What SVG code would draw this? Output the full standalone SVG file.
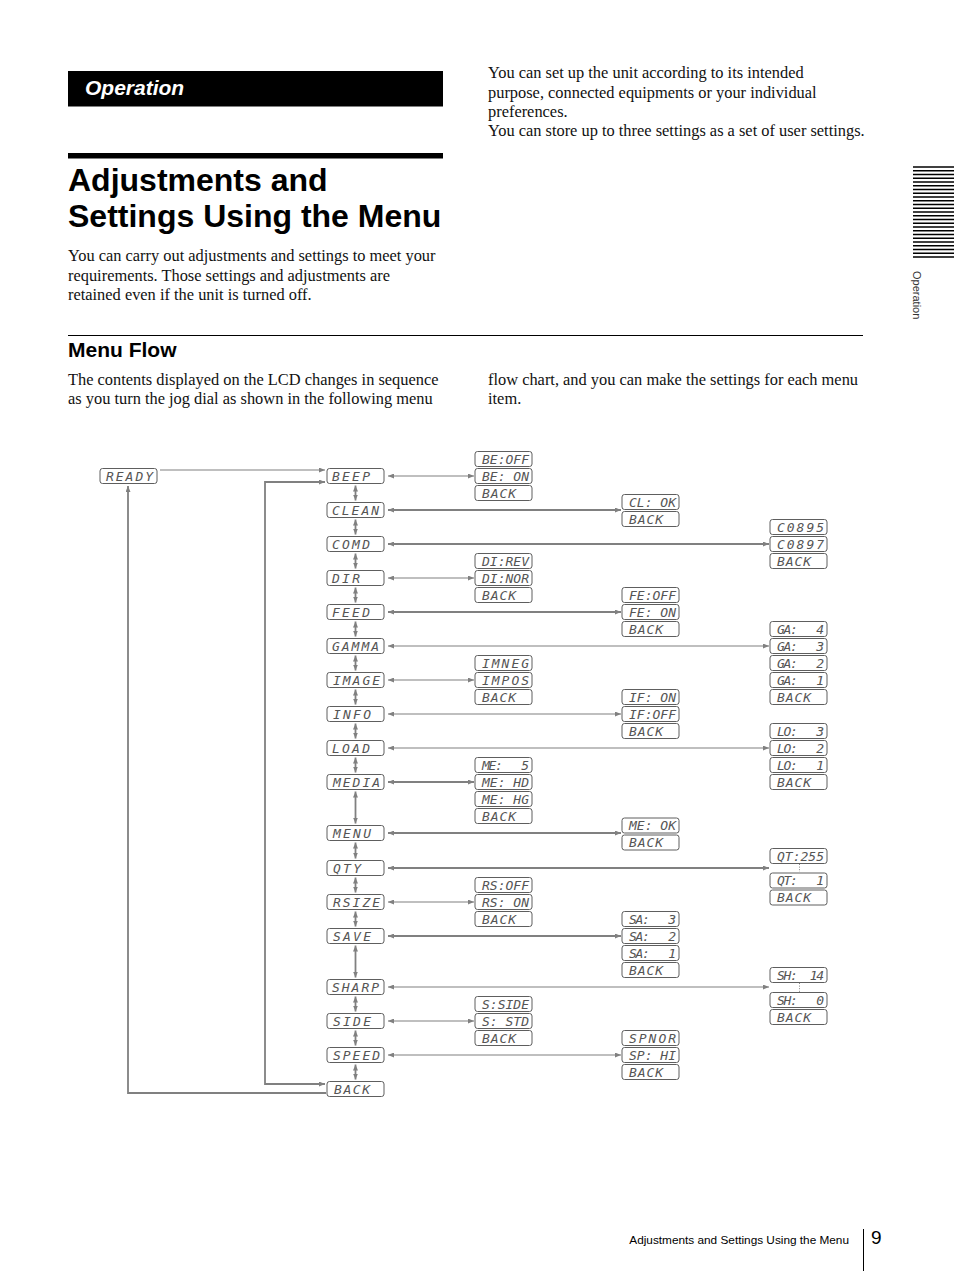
<svg xmlns="http://www.w3.org/2000/svg" width="954" height="1272" viewBox="0 0 954 1272">
<style>
.body{font-family:"Liberation Serif",serif;font-size:16.4px;fill:#111}
.lcd{fill:#fff;stroke:#5e5e5e;stroke-width:1}
.lt{font-family:"DejaVu Sans Mono","Liberation Mono",monospace;font-style:italic;font-size:13px;fill:#555;white-space:pre}
.c{fill:none;stroke:#808080;stroke-width:1.2}
.ck{fill:none;stroke:#808080;stroke-width:1.8}
.dot{fill:none;stroke:#888;stroke-width:1;stroke-dasharray:1 1.6}
</style>
<defs>
<marker id="ah" viewBox="0 0 6 5" refX="6" refY="2.5" markerWidth="6" markerHeight="5" markerUnits="userSpaceOnUse" orient="auto-start-reverse"><path d="M0,0 L6,2.5 L0,5 z" fill="#808080"/></marker>
</defs>
<rect width="954" height="1272" fill="#fff"/>

<!-- page header -->
<rect x="68" y="71" width="375" height="35.5" fill="#000"/>
<text x="85" y="94.5" font-family="Liberation Sans,Arial,sans-serif" font-size="21" font-weight="bold" font-style="italic" fill="#fff">Operation</text>
<rect x="68" y="153" width="375" height="5.5" fill="#000"/>
<text x="68" y="191" font-family="Liberation Sans,Arial,sans-serif" font-size="32" font-weight="bold" fill="#000">Adjustments and</text>
<text x="68" y="226.5" font-family="Liberation Sans,Arial,sans-serif" font-size="32" font-weight="bold" fill="#000">Settings Using the Menu</text>
<text class="body" x="68" y="261">You can carry out adjustments and settings to meet your</text>
<text class="body" x="68" y="280.5">requirements. Those settings and adjustments are</text>
<text class="body" x="68" y="300">retained even if the unit is turned off.</text>
<text class="body" x="488" y="78">You can set up the unit according to its intended</text>
<text class="body" x="488" y="97.5">purpose, connected equipments or your individual</text>
<text class="body" x="488" y="116.5">preferences.</text>
<text class="body" x="488" y="136">You can store up to three settings as a set of user settings.</text>
<rect x="68" y="335" width="795" height="1" fill="#000"/>
<text x="68" y="357" font-family="Liberation Sans,Arial,sans-serif" font-size="21" font-weight="bold" fill="#000">Menu Flow</text>
<text class="body" x="68" y="385">The contents displayed on the LCD changes in sequence</text>
<text class="body" x="68" y="404">as you turn the jog dial as shown in the following menu</text>
<text class="body" x="488" y="385">flow chart, and you can make the settings for each menu</text>
<text class="body" x="488" y="404">item.</text>

<!-- side tab -->
<g stroke="#000" stroke-width="1.3">
<line x1="913" y1="167" x2="954" y2="167"/><line x1="913" y1="170.75" x2="954" y2="170.75"/><line x1="913" y1="174.5" x2="954" y2="174.5"/><line x1="913" y1="178.25" x2="954" y2="178.25"/><line x1="913" y1="182" x2="954" y2="182"/><line x1="913" y1="185.75" x2="954" y2="185.75"/><line x1="913" y1="189.5" x2="954" y2="189.5"/><line x1="913" y1="193.25" x2="954" y2="193.25"/><line x1="913" y1="197" x2="954" y2="197"/><line x1="913" y1="200.75" x2="954" y2="200.75"/><line x1="913" y1="204.5" x2="954" y2="204.5"/><line x1="913" y1="208.25" x2="954" y2="208.25"/><line x1="913" y1="212" x2="954" y2="212"/><line x1="913" y1="215.75" x2="954" y2="215.75"/><line x1="913" y1="219.5" x2="954" y2="219.5"/><line x1="913" y1="223.25" x2="954" y2="223.25"/><line x1="913" y1="227" x2="954" y2="227"/><line x1="913" y1="230.75" x2="954" y2="230.75"/><line x1="913" y1="234.5" x2="954" y2="234.5"/><line x1="913" y1="238.25" x2="954" y2="238.25"/><line x1="913" y1="242" x2="954" y2="242"/><line x1="913" y1="245.75" x2="954" y2="245.75"/><line x1="913" y1="249.5" x2="954" y2="249.5"/><line x1="913" y1="253.25" x2="954" y2="253.25"/><line x1="913" y1="257" x2="954" y2="257"/>
</g>
<text transform="translate(913,271) rotate(90)" font-family="Liberation Sans,Arial,sans-serif" font-size="11" fill="#333">Operation</text>

<!-- footer -->
<text x="849" y="1244" text-anchor="end" font-family="Liberation Sans,Arial,sans-serif" font-size="11.8" fill="#000">Adjustments and Settings Using the Menu</text>
<rect x="863" y="1229" width="1" height="42" fill="#000"/>
<text x="871" y="1244" font-family="Liberation Sans,Arial,sans-serif" font-size="19" fill="#000">9</text>

<!-- connectors -->
<g id="connectors">
<line class="c" x1="160" y1="470" x2="325" y2="470" marker-end="url(#ah)"/>
<polyline class="ck" points="325,482 265,482 265,1084 325,1084" marker-start="url(#ah)" marker-end="url(#ah)"/>
<polyline class="ck" points="326,1093 128,1093 128,486" marker-end="url(#ah)"/>
<!-- horizontal -->
<line class="c" x1="388" y1="476" x2="474" y2="476" marker-start="url(#ah)" marker-end="url(#ah)"/>
<line class="ck" x1="388" y1="510" x2="621" y2="510" marker-start="url(#ah)" marker-end="url(#ah)"/>
<line class="ck" x1="388" y1="544" x2="769" y2="544" marker-start="url(#ah)" marker-end="url(#ah)"/>
<line class="c" x1="388" y1="578" x2="474" y2="578" marker-start="url(#ah)" marker-end="url(#ah)"/>
<line class="ck" x1="388" y1="612" x2="621" y2="612" marker-start="url(#ah)" marker-end="url(#ah)"/>
<line class="c" x1="388" y1="646" x2="769" y2="646" marker-start="url(#ah)" marker-end="url(#ah)"/>
<line class="c" x1="388" y1="680" x2="474" y2="680" marker-start="url(#ah)" marker-end="url(#ah)"/>
<line class="c" x1="388" y1="714" x2="621" y2="714" marker-start="url(#ah)" marker-end="url(#ah)"/>
<line class="c" x1="388" y1="748" x2="769" y2="748" marker-start="url(#ah)" marker-end="url(#ah)"/>
<line class="ck" x1="388" y1="782" x2="474" y2="782" marker-start="url(#ah)" marker-end="url(#ah)"/>
<line class="ck" x1="388" y1="833" x2="621" y2="833" marker-start="url(#ah)" marker-end="url(#ah)"/>
<line class="ck" x1="388" y1="868" x2="769" y2="868" marker-start="url(#ah)" marker-end="url(#ah)"/>
<line class="c" x1="388" y1="902" x2="474" y2="902" marker-start="url(#ah)" marker-end="url(#ah)"/>
<line class="ck" x1="388" y1="936" x2="621" y2="936" marker-start="url(#ah)" marker-end="url(#ah)"/>
<line class="c" x1="388" y1="987" x2="769" y2="987" marker-start="url(#ah)" marker-end="url(#ah)"/>
<line class="c" x1="388" y1="1021" x2="474" y2="1021" marker-start="url(#ah)" marker-end="url(#ah)"/>
<line class="c" x1="388" y1="1055" x2="621" y2="1055" marker-start="url(#ah)" marker-end="url(#ah)"/>
<!-- vertical -->
<line class="ck" x1="355.5" y1="485.5" x2="355.5" y2="500.5" marker-start="url(#ah)" marker-end="url(#ah)"/>
<line class="ck" x1="355.5" y1="519.5" x2="355.5" y2="534.5" marker-start="url(#ah)" marker-end="url(#ah)"/>
<line class="ck" x1="355.5" y1="553.5" x2="355.5" y2="568.5" marker-start="url(#ah)" marker-end="url(#ah)"/>
<line class="ck" x1="355.5" y1="587.5" x2="355.5" y2="602.5" marker-start="url(#ah)" marker-end="url(#ah)"/>
<line class="ck" x1="355.5" y1="621.5" x2="355.5" y2="636.5" marker-start="url(#ah)" marker-end="url(#ah)"/>
<line class="ck" x1="355.5" y1="655.5" x2="355.5" y2="670.5" marker-start="url(#ah)" marker-end="url(#ah)"/>
<line class="ck" x1="355.5" y1="689.5" x2="355.5" y2="704.5" marker-start="url(#ah)" marker-end="url(#ah)"/>
<line class="ck" x1="355.5" y1="723.5" x2="355.5" y2="738.5" marker-start="url(#ah)" marker-end="url(#ah)"/>
<line class="ck" x1="355.5" y1="757.5" x2="355.5" y2="772.5" marker-start="url(#ah)" marker-end="url(#ah)"/>
<line class="ck" x1="355.5" y1="791.5" x2="355.5" y2="823.5" marker-start="url(#ah)" marker-end="url(#ah)"/>
<line class="ck" x1="355.5" y1="842.5" x2="355.5" y2="858.5" marker-start="url(#ah)" marker-end="url(#ah)"/>
<line class="ck" x1="355.5" y1="877.5" x2="355.5" y2="892.5" marker-start="url(#ah)" marker-end="url(#ah)"/>
<line class="ck" x1="355.5" y1="911.5" x2="355.5" y2="926.5" marker-start="url(#ah)" marker-end="url(#ah)"/>
<line class="ck" x1="355.5" y1="945.5" x2="355.5" y2="977.5" marker-start="url(#ah)" marker-end="url(#ah)"/>
<line class="ck" x1="355.5" y1="996.5" x2="355.5" y2="1011.5" marker-start="url(#ah)" marker-end="url(#ah)"/>
<line class="ck" x1="355.5" y1="1030.5" x2="355.5" y2="1045.5" marker-start="url(#ah)" marker-end="url(#ah)"/>
<line class="ck" x1="355.5" y1="1064.5" x2="355.5" y2="1079.5" marker-start="url(#ah)" marker-end="url(#ah)"/>
<!-- dotted continuation -->
<line class="dot" x1="799.5" y1="864" x2="799.5" y2="872"/>
<line class="dot" x1="799.5" y1="983" x2="799.5" y2="992"/>
</g>

<!-- main column nodes -->
<g id="n-ready"><rect class="lcd" x="100" y="468.5" width="57" height="15" rx="2.5"/><text class="lt" x="106" y="480.8" textLength="47" lengthAdjust="spacing">READY</text></g>
<g id="n-beep"><rect class="lcd" x="327" y="468.5" width="57" height="15" rx="2.5"/><text class="lt" x="332" y="480.8" textLength="38" lengthAdjust="spacing">BEEP</text></g>
<g id="n-clean"><rect class="lcd" x="327" y="502.5" width="57" height="15" rx="2.5"/><text class="lt" x="332" y="514.8" textLength="47" lengthAdjust="spacing">CLEAN</text></g>
<g id="n-comd"><rect class="lcd" x="327" y="536.5" width="57" height="15" rx="2.5"/><text class="lt" x="332" y="548.8" textLength="38" lengthAdjust="spacing">COMD</text></g>
<g id="n-dir"><rect class="lcd" x="327" y="570.5" width="57" height="15" rx="2.5"/><text class="lt" x="332" y="582.8" textLength="28" lengthAdjust="spacing">DIR</text></g>
<g id="n-feed"><rect class="lcd" x="327" y="604.5" width="57" height="15" rx="2.5"/><text class="lt" x="332" y="616.8" textLength="38" lengthAdjust="spacing">FEED</text></g>
<g id="n-gamma"><rect class="lcd" x="327" y="638.5" width="57" height="15" rx="2.5"/><text class="lt" x="332" y="650.8" textLength="47" lengthAdjust="spacing">GAMMA</text></g>
<g id="n-image"><rect class="lcd" x="327" y="672.5" width="57" height="15" rx="2.5"/><text class="lt" x="333" y="684.8" textLength="47" lengthAdjust="spacing">IMAGE</text></g>
<g id="n-info"><rect class="lcd" x="327" y="706.5" width="57" height="15" rx="2.5"/><text class="lt" x="333" y="718.8" textLength="38" lengthAdjust="spacing">INFO</text></g>
<g id="n-load"><rect class="lcd" x="327" y="740.5" width="57" height="15" rx="2.5"/><text class="lt" x="332" y="752.8" textLength="38" lengthAdjust="spacing">LOAD</text></g>
<g id="n-media"><rect class="lcd" x="327" y="774.5" width="57" height="15" rx="2.5"/><text class="lt" x="333" y="786.8" textLength="47" lengthAdjust="spacing">MEDIA</text></g>
<g id="n-menu"><rect class="lcd" x="327" y="825.5" width="57" height="15" rx="2.5"/><text class="lt" x="333" y="837.8" textLength="38" lengthAdjust="spacing">MENU</text></g>
<g id="n-qty"><rect class="lcd" x="327" y="860.5" width="57" height="15" rx="2.5"/><text class="lt" x="333" y="872.8" textLength="28" lengthAdjust="spacing">QTY</text></g>
<g id="n-rsize"><rect class="lcd" x="327" y="894.5" width="57" height="15" rx="2.5"/><text class="lt" x="333" y="906.8" textLength="47" lengthAdjust="spacing">RSIZE</text></g>
<g id="n-save"><rect class="lcd" x="327" y="928.5" width="57" height="15" rx="2.5"/><text class="lt" x="333" y="940.8" textLength="38" lengthAdjust="spacing">SAVE</text></g>
<g id="n-sharp"><rect class="lcd" x="327" y="979.5" width="57" height="15" rx="2.5"/><text class="lt" x="332" y="991.8" textLength="47" lengthAdjust="spacing">SHARP</text></g>
<g id="n-side"><rect class="lcd" x="327" y="1013.5" width="57" height="15" rx="2.5"/><text class="lt" x="333" y="1025.8" textLength="38" lengthAdjust="spacing">SIDE</text></g>
<g id="n-speed"><rect class="lcd" x="327" y="1047.5" width="57" height="15" rx="2.5"/><text class="lt" x="333" y="1059.8" textLength="47" lengthAdjust="spacing">SPEED</text></g>
<g id="n-back"><rect class="lcd" x="327" y="1081.5" width="57" height="15" rx="2.5"/><text class="lt" x="334" y="1093.8" textLength="36" lengthAdjust="spacing">BACK</text></g>

<!-- sub nodes -->
<g id="s-beoff"><rect class="lcd" x="475" y="451.5" width="57" height="15" rx="2.5"/><text class="lt" x="482" y="463.8" textLength="47" lengthAdjust="spacing">BE:OFF</text></g>
<g id="s-beon"><rect class="lcd" x="475" y="468.5" width="57" height="15" rx="2.5"/><text class="lt" x="482" y="480.8" textLength="47" lengthAdjust="spacing">BE: ON</text></g>
<g id="s-beep-back"><rect class="lcd" x="475" y="485.5" width="57" height="15" rx="2.5"/><text class="lt" x="482" y="497.8" textLength="34" lengthAdjust="spacing">BACK</text></g>
<g id="s-clok"><rect class="lcd" x="622" y="494.5" width="57" height="15" rx="2.5"/><text class="lt" x="629" y="506.8" textLength="47" lengthAdjust="spacing">CL: OK</text></g>
<g id="s-clean-back"><rect class="lcd" x="622" y="511.5" width="57" height="15" rx="2.5"/><text class="lt" x="629" y="523.8" textLength="34" lengthAdjust="spacing">BACK</text></g>
<g id="s-c0895"><rect class="lcd" x="770" y="519.5" width="57" height="15" rx="2.5"/><text class="lt" x="777" y="531.8" textLength="47" lengthAdjust="spacing">C0895</text></g>
<g id="s-c0897"><rect class="lcd" x="770" y="536.5" width="57" height="15" rx="2.5"/><text class="lt" x="777" y="548.8" textLength="47" lengthAdjust="spacing">C0897</text></g>
<g id="s-comd-back"><rect class="lcd" x="770" y="553.5" width="57" height="15" rx="2.5"/><text class="lt" x="777" y="565.8" textLength="34" lengthAdjust="spacing">BACK</text></g>
<g id="s-direv"><rect class="lcd" x="475" y="553.5" width="57" height="15" rx="2.5"/><text class="lt" x="482" y="565.8" textLength="47" lengthAdjust="spacing">DI:REV</text></g>
<g id="s-dinor"><rect class="lcd" x="475" y="570.5" width="57" height="15" rx="2.5"/><text class="lt" x="482" y="582.8" textLength="47" lengthAdjust="spacing">DI:NOR</text></g>
<g id="s-dir-back"><rect class="lcd" x="475" y="587.5" width="57" height="15" rx="2.5"/><text class="lt" x="482" y="599.8" textLength="34" lengthAdjust="spacing">BACK</text></g>
<g id="s-feoff"><rect class="lcd" x="622" y="587.5" width="57" height="15" rx="2.5"/><text class="lt" x="629" y="599.8" textLength="47" lengthAdjust="spacing">FE:OFF</text></g>
<g id="s-feon"><rect class="lcd" x="622" y="604.5" width="57" height="15" rx="2.5"/><text class="lt" x="629" y="616.8" textLength="47" lengthAdjust="spacing">FE: ON</text></g>
<g id="s-feed-back"><rect class="lcd" x="622" y="621.5" width="57" height="15" rx="2.5"/><text class="lt" x="629" y="633.8" textLength="34" lengthAdjust="spacing">BACK</text></g>
<g id="s-ga4"><rect class="lcd" x="770" y="621.5" width="57" height="15" rx="2.5"/><text class="lt" x="777" y="633.8" textLength="47" lengthAdjust="spacing">GA:   4</text></g>
<g id="s-ga3"><rect class="lcd" x="770" y="638.5" width="57" height="15" rx="2.5"/><text class="lt" x="777" y="650.8" textLength="47" lengthAdjust="spacing">GA:   3</text></g>
<g id="s-ga2"><rect class="lcd" x="770" y="655.5" width="57" height="15" rx="2.5"/><text class="lt" x="777" y="667.8" textLength="47" lengthAdjust="spacing">GA:   2</text></g>
<g id="s-ga1"><rect class="lcd" x="770" y="672.5" width="57" height="15" rx="2.5"/><text class="lt" x="777" y="684.8" textLength="47" lengthAdjust="spacing">GA:   1</text></g>
<g id="s-gamma-back"><rect class="lcd" x="770" y="689.5" width="57" height="15" rx="2.5"/><text class="lt" x="777" y="701.8" textLength="34" lengthAdjust="spacing">BACK</text></g>
<g id="s-imneg"><rect class="lcd" x="475" y="655.5" width="57" height="15" rx="2.5"/><text class="lt" x="482" y="667.8" textLength="47" lengthAdjust="spacing">IMNEG</text></g>
<g id="s-impos"><rect class="lcd" x="475" y="672.5" width="57" height="15" rx="2.5"/><text class="lt" x="482" y="684.8" textLength="47" lengthAdjust="spacing">IMPOS</text></g>
<g id="s-image-back"><rect class="lcd" x="475" y="689.5" width="57" height="15" rx="2.5"/><text class="lt" x="482" y="701.8" textLength="34" lengthAdjust="spacing">BACK</text></g>
<g id="s-ifon"><rect class="lcd" x="622" y="689.5" width="57" height="15" rx="2.5"/><text class="lt" x="629" y="701.8" textLength="47" lengthAdjust="spacing">IF: ON</text></g>
<g id="s-ifoff"><rect class="lcd" x="622" y="706.5" width="57" height="15" rx="2.5"/><text class="lt" x="629" y="718.8" textLength="47" lengthAdjust="spacing">IF:OFF</text></g>
<g id="s-info-back"><rect class="lcd" x="622" y="723.5" width="57" height="15" rx="2.5"/><text class="lt" x="629" y="735.8" textLength="34" lengthAdjust="spacing">BACK</text></g>
<g id="s-lo3"><rect class="lcd" x="770" y="723.5" width="57" height="15" rx="2.5"/><text class="lt" x="777" y="735.8" textLength="47" lengthAdjust="spacing">LO:   3</text></g>
<g id="s-lo2"><rect class="lcd" x="770" y="740.5" width="57" height="15" rx="2.5"/><text class="lt" x="777" y="752.8" textLength="47" lengthAdjust="spacing">LO:   2</text></g>
<g id="s-lo1"><rect class="lcd" x="770" y="757.5" width="57" height="15" rx="2.5"/><text class="lt" x="777" y="769.8" textLength="47" lengthAdjust="spacing">LO:   1</text></g>
<g id="s-load-back"><rect class="lcd" x="770" y="774.5" width="57" height="15" rx="2.5"/><text class="lt" x="777" y="786.8" textLength="34" lengthAdjust="spacing">BACK</text></g>
<g id="s-me5"><rect class="lcd" x="475" y="757.5" width="57" height="15" rx="2.5"/><text class="lt" x="482" y="769.8" textLength="47" lengthAdjust="spacing">ME:   5</text></g>
<g id="s-mehd"><rect class="lcd" x="475" y="774.5" width="57" height="15" rx="2.5"/><text class="lt" x="482" y="786.8" textLength="47" lengthAdjust="spacing">ME: HD</text></g>
<g id="s-mehg"><rect class="lcd" x="475" y="791.5" width="57" height="15" rx="2.5"/><text class="lt" x="482" y="803.8" textLength="47" lengthAdjust="spacing">ME: HG</text></g>
<g id="s-media-back"><rect class="lcd" x="475" y="808.5" width="57" height="15" rx="2.5"/><text class="lt" x="482" y="820.8" textLength="34" lengthAdjust="spacing">BACK</text></g>
<g id="s-meok"><rect class="lcd" x="622" y="818" width="57" height="15" rx="2.5"/><text class="lt" x="629" y="830.3" textLength="47" lengthAdjust="spacing">ME: OK</text></g>
<g id="s-menu-back"><rect class="lcd" x="622" y="835" width="57" height="15" rx="2.5"/><text class="lt" x="629" y="847.3" textLength="34" lengthAdjust="spacing">BACK</text></g>
<g id="s-qt255"><rect class="lcd" x="770" y="848.5" width="57" height="15" rx="2.5"/><text class="lt" x="777" y="860.8" textLength="47" lengthAdjust="spacing">QT:255</text></g>
<g id="s-qt1"><rect class="lcd" x="770" y="873" width="57" height="15" rx="2.5"/><text class="lt" x="777" y="885.3" textLength="47" lengthAdjust="spacing">QT:   1</text></g>
<g id="s-qty-back"><rect class="lcd" x="770" y="890" width="57" height="15" rx="2.5"/><text class="lt" x="777" y="902.3" textLength="34" lengthAdjust="spacing">BACK</text></g>
<g id="s-rsoff"><rect class="lcd" x="475" y="877.5" width="57" height="15" rx="2.5"/><text class="lt" x="482" y="889.8" textLength="47" lengthAdjust="spacing">RS:OFF</text></g>
<g id="s-rson"><rect class="lcd" x="475" y="894.5" width="57" height="15" rx="2.5"/><text class="lt" x="482" y="906.8" textLength="47" lengthAdjust="spacing">RS: ON</text></g>
<g id="s-rsize-back"><rect class="lcd" x="475" y="911.5" width="57" height="15" rx="2.5"/><text class="lt" x="482" y="923.8" textLength="34" lengthAdjust="spacing">BACK</text></g>
<g id="s-sa3"><rect class="lcd" x="622" y="911.5" width="57" height="15" rx="2.5"/><text class="lt" x="629" y="923.8" textLength="47" lengthAdjust="spacing">SA:   3</text></g>
<g id="s-sa2"><rect class="lcd" x="622" y="928.5" width="57" height="15" rx="2.5"/><text class="lt" x="629" y="940.8" textLength="47" lengthAdjust="spacing">SA:   2</text></g>
<g id="s-sa1"><rect class="lcd" x="622" y="945.5" width="57" height="15" rx="2.5"/><text class="lt" x="629" y="957.8" textLength="47" lengthAdjust="spacing">SA:   1</text></g>
<g id="s-save-back"><rect class="lcd" x="622" y="962.5" width="57" height="15" rx="2.5"/><text class="lt" x="629" y="974.8" textLength="34" lengthAdjust="spacing">BACK</text></g>
<g id="s-sh14"><rect class="lcd" x="770" y="967.5" width="57" height="15" rx="2.5"/><text class="lt" x="777" y="979.8" textLength="47" lengthAdjust="spacing">SH:  14</text></g>
<g id="s-sh0"><rect class="lcd" x="770" y="992.5" width="57" height="15" rx="2.5"/><text class="lt" x="777" y="1004.8" textLength="47" lengthAdjust="spacing">SH:   0</text></g>
<g id="s-sharp-back"><rect class="lcd" x="770" y="1009.5" width="57" height="15" rx="2.5"/><text class="lt" x="777" y="1021.8" textLength="34" lengthAdjust="spacing">BACK</text></g>
<g id="s-sside"><rect class="lcd" x="475" y="996.5" width="57" height="15" rx="2.5"/><text class="lt" x="482" y="1008.8" textLength="47" lengthAdjust="spacing">S:SIDE</text></g>
<g id="s-sstd"><rect class="lcd" x="475" y="1013.5" width="57" height="15" rx="2.5"/><text class="lt" x="482" y="1025.8" textLength="47" lengthAdjust="spacing">S: STD</text></g>
<g id="s-side-back"><rect class="lcd" x="475" y="1030.5" width="57" height="15" rx="2.5"/><text class="lt" x="482" y="1042.8" textLength="34" lengthAdjust="spacing">BACK</text></g>
<g id="s-spnor"><rect class="lcd" x="622" y="1030.5" width="57" height="15" rx="2.5"/><text class="lt" x="629" y="1042.8" textLength="47" lengthAdjust="spacing">SPNOR</text></g>
<g id="s-sphi"><rect class="lcd" x="622" y="1047.5" width="57" height="15" rx="2.5"/><text class="lt" x="629" y="1059.8" textLength="47" lengthAdjust="spacing">SP: HI</text></g>
<g id="s-speed-back"><rect class="lcd" x="622" y="1064.5" width="57" height="15" rx="2.5"/><text class="lt" x="629" y="1076.8" textLength="34" lengthAdjust="spacing">BACK</text></g>
</svg>
